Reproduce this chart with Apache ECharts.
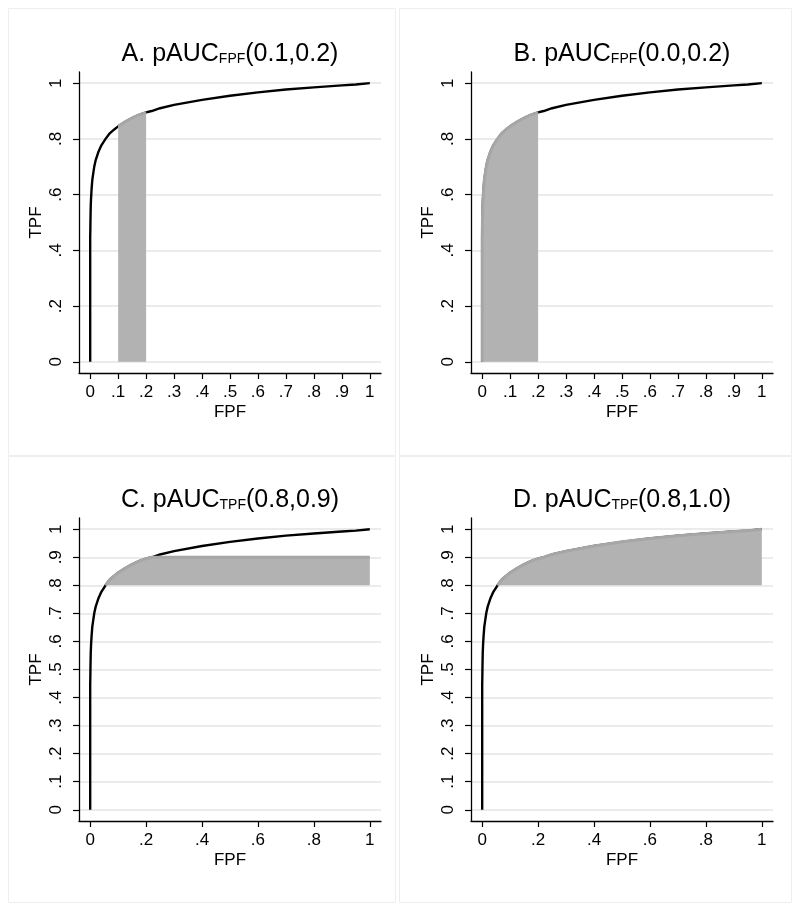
<!DOCTYPE html>
<html>
<head>
<meta charset="utf-8">
<script src="https://cdn.jsdelivr.net/npm/echarts@6/dist/echarts.min.js"></script>
<style>
html,body{margin:0;padding:0;background:#fff;}
#chart{width:800px;height:913px;}
</style>
</head>
<body>
<div id="chart"></div>
<script>
// ROC curve (FPF, TPF)
const rocFPF = [0, 0, 0.0005, 0.001, 0.002, 0.003, 0.005, 0.0075, 0.01, 0.015, 0.02, 0.03, 0.04, 0.055, 0.07, 0.085, 0.1, 0.125, 0.15, 0.175, 0.2, 0.22, 0.25, 0.3, 0.4, 0.5, 0.6, 0.7, 0.8, 0.9, 0.95, 1];
const rocTPF = [0, 0.45, 0.47, 0.51, 0.56, 0.585, 0.62, 0.652, 0.67, 0.703, 0.725, 0.755, 0.777, 0.8, 0.82, 0.833, 0.845, 0.861, 0.875, 0.886, 0.895, 0.9, 0.91, 0.922, 0.94, 0.955, 0.967, 0.977, 0.985, 0.992, 0.995, 1];

// shaded ranges
const rangeA = [0.1, 0.2];   // FPF
const rangeB = [0.0, 0.2];   // FPF
const rangeC = [0.8, 0.9];   // TPF
const rangeD = [0.8, 1.0];   // TPF

// titles
const titleLetters = ['A.', 'B.', 'C.', 'D.'];
const titleSubs = ['FPF', 'FPF', 'TPF', 'TPF'];
const titleArgs = ['(0.1,0.2)', '(0.0,0.2)', '(0.8,0.9)', '(0.8,1.0)'];

// ticks
const xTicksTop = [0, 0.1, 0.2, 0.3, 0.4, 0.5, 0.6, 0.7, 0.8, 0.9, 1];
const yTicksTop = [0, 0.2, 0.4, 0.6, 0.8, 1];
const xTicksBottom = [0, 0.2, 0.4, 0.6, 0.8, 1];
const yTicksBottom = [0, 0.1, 0.2, 0.3, 0.4, 0.5, 0.6, 0.7, 0.8, 0.9, 1];

const FONT = 'Liberation Sans, Arial, Helvetica, sans-serif';
const roc = rocFPF.map((x, i) => [x, rocTPF[i]]);

function fmt(v) {
  const r = Math.round(v * 10) / 10;
  if (r === 0) return '0';
  if (r === 1) return '1';
  return String(r).replace(/^0/, '');
}

const shadeA = roc.filter(p => p[0] >= rangeA[0] && p[0] <= rangeA[1]);
const shadeB = roc.filter(p => p[0] >= rangeB[0] && p[0] <= rangeB[1]);
const shadeC = roc.filter(p => p[1] >= rangeC[0] && p[1] <= rangeC[1]).concat([[1, rangeC[1]]]);
const shadeD = roc.filter(p => p[1] >= rangeD[0] && p[1] <= rangeD[1]);
const shades = [shadeA, shadeB, shadeC, shadeD];
const origins = [0, 0, rangeC[0], rangeD[0]];

const grids = [
  {left: 79, top: 72, width: 302, height: 301},
  {left: 471, top: 72, width: 302, height: 301},
  {left: 79, top: 518, width: 302, height: 303},
  {left: 471, top: 518, width: 302, height: 303}
];
const PAD = 0.04;

const option = {
  animation: false,
  backgroundColor: '#fff',
  textStyle: {fontFamily: FONT},
  graphic: [
    {type: 'rect', shape: {x: 8.5, y: 8.5, width: 387, height: 447}, style: {fill: 'none', stroke: '#eeeeee', lineWidth: 1}, silent: true, z: -10},
    {type: 'rect', shape: {x: 399.5, y: 8.5, width: 392, height: 447}, style: {fill: 'none', stroke: '#eeeeee', lineWidth: 1}, silent: true, z: -10},
    {type: 'rect', shape: {x: 8.5, y: 456.5, width: 387, height: 446}, style: {fill: 'none', stroke: '#eeeeee', lineWidth: 1}, silent: true, z: -10},
    {type: 'rect', shape: {x: 399.5, y: 456.5, width: 392, height: 446}, style: {fill: 'none', stroke: '#eeeeee', lineWidth: 1}, silent: true, z: -10}
  ],
  title: grids.map((g, i) => ({
    text: '{m|' + titleLetters[i] + ' pAUC}{s|' + titleSubs[i] + '}{m|' + titleArgs[i] + '}',
    left: g.left + g.width / 2,
    textAlign: 'center',
    top: g.top - 33,
    padding: 0,
    textStyle: {
      fontWeight: 'normal',
      rich: {
        m: {fontFamily: FONT, fontSize: 25, fontWeight: 'normal', color: '#000', verticalAlign: 'bottom', lineHeight: 28},
        s: {fontFamily: FONT, fontSize: 14, fontWeight: 'normal', color: '#000', verticalAlign: 'bottom', lineHeight: 28, padding: [0, 0, 1, 0]}
      }
    }
  })),
  grid: grids.map(g => Object.assign({containLabel: false}, g)),
  xAxis: grids.map((g, i) => {
    const ticks = i < 2 ? xTicksTop : xTicksBottom;
    return {
      type: 'value', gridIndex: i, min: -PAD, max: 1 + PAD,
      name: 'FPF', nameLocation: 'middle', nameGap: 31,
      nameTextStyle: {fontFamily: FONT, fontSize: 17, color: '#000'},
      axisLine: {show: true, onZero: false, lineStyle: {color: '#000', width: 1.3}},
      axisTick: {show: true, length: 6, customValues: ticks, lineStyle: {color: '#000', width: 1.2}},
      axisLabel: {show: true, customValues: ticks, formatter: fmt, margin: 11, fontFamily: FONT, fontSize: 17, color: '#000', showMinLabel: true, showMaxLabel: true},
      splitLine: {show: false}
    };
  }),
  yAxis: grids.map((g, i) => {
    const ticks = i < 2 ? yTicksTop : yTicksBottom;
    return {
      type: 'value', gridIndex: i, min: -PAD, max: 1 + PAD,
      name: 'TPF', nameLocation: 'middle', nameGap: 34,
      nameTextStyle: {fontFamily: FONT, fontSize: 17, color: '#000'},
      axisLine: {show: true, onZero: false, lineStyle: {color: '#000', width: 1.3}},
      axisTick: {show: true, length: 6, customValues: ticks, lineStyle: {color: '#000', width: 1.2}},
      axisLabel: {show: true, customValues: ticks, formatter: fmt, rotate: 90, margin: 14, fontFamily: FONT, fontSize: 17, color: '#000', showMinLabel: true, showMaxLabel: true},
      splitLine: {show: true, lineStyle: {color: '#e4e4e4', width: 1.5}}
    };
  }),
  series: []
};

for (let i = 0; i < 4; i++) {
  option.series.push({
    type: 'line', xAxisIndex: i, yAxisIndex: i, data: roc,
    showSymbol: false, symbol: 'none', silent: true, z: 3,
    lineStyle: {color: '#000', width: 2.4}
  });
  option.series.push({
    type: 'line', xAxisIndex: i, yAxisIndex: i, data: shades[i],
    showSymbol: false, symbol: 'none', silent: true, z: 4,
    lineStyle: {color: '#a6a6a6', width: 3},
    areaStyle: {color: '#b2b2b2', opacity: 1, origin: origins[i]}
  });
}

const chart = echarts.init(document.getElementById('chart'), null, {renderer: 'canvas', width: 800, height: 913});
chart.setOption(option);
</script>
</body>
</html>
